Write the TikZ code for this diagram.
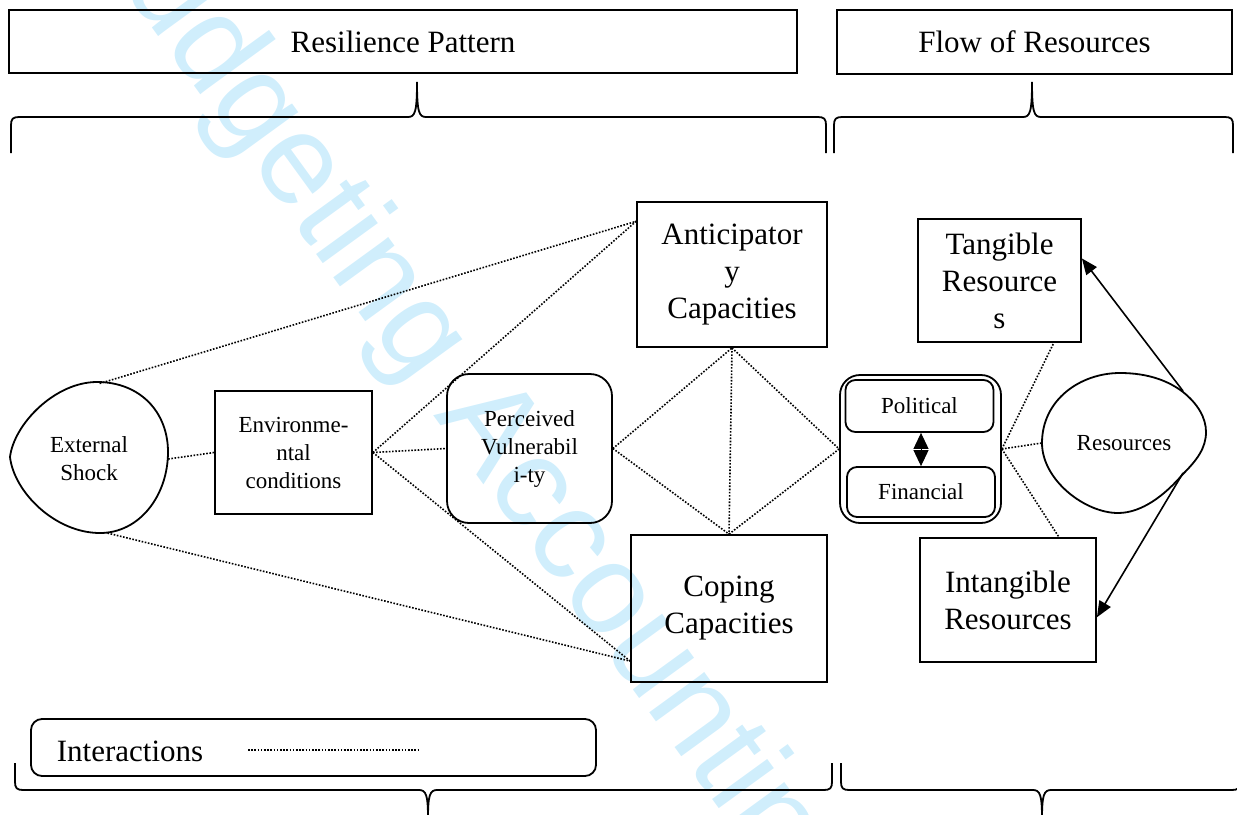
\documentclass[tikz,border=0pt]{standalone}
\usepackage{fontspec}
\setmainfont{Liberation Serif}
\newfontfamily\markfont{Liberation Sans}
\usetikzlibrary{shapes.geometric,arrows.meta}
\definecolor{markblue}{RGB}{208,238,252}

% word style braces: left end, tip, right end
\newcommand{\topbrace}[3]{%
  \draw[brace] (#1,153) -- (#1,125) .. controls (#1,119) and (#1+2,117) .. (#1+8,117)
    -- (#2-9,117) .. controls (#2-2,117) and (#2,112) .. (#2,82)
    .. controls (#2,112) and (#2+2,117) .. (#2+9,117)
    -- (#3-8,117) .. controls (#3-2,117) and (#3,119) .. (#3,125) -- (#3,153);}
\newcommand{\botbrace}[3]{%
  \draw[brace] (#1,763) -- (#1,782) .. controls (#1,788) and (#1+2,790) .. (#1+8,790)
    -- (#2-9,790) .. controls (#2-2,790) and (#2,795) .. (#2,818)
    .. controls (#2,795) and (#2+2,790) .. (#2+9,790)
    -- (#3-8,790) .. controls (#3-2,790) and (#3,788) .. (#3,782) -- (#3,763);}

\begin{document}
\begin{tikzpicture}[x=1pt,y=-1pt,
	box/.style={draw, line width=1.8pt, align=center, inner sep=0pt},
	big/.style={font=\fontsize{31}{37}\selectfont},
	small/.style={font=\fontsize{23}{28}\selectfont},
	link/.style={line width=1.6pt, dash pattern=on 1.6pt off 1.6pt},
	flow/.style={line width=1.6pt, -{Triangle[length=16pt,width=13pt]}},
	brace/.style={line width=1.8pt}]
	\useasboundingbox (0,0) rectangle (1237,814);
	\node[font=\markfont\fontsize{129}{129}\selectfont, text=markblue, rotate=-54, anchor=base, inner sep=0pt] (mark) at (440,424) {Budgeting Accounting};
	% headings
	\node[box, big, minimum width=788pt, minimum height=63pt] (rp) at (403,41.5) {Resilience Pattern};
	\node[box, big, minimum width=395pt, minimum height=64pt] (fr) at (1034.5,42) {Flow of Resources};
	\topbrace{11}{417}{826}
	\topbrace{834}{1032}{1233}
	\botbrace{15}{428}{832}
	\botbrace{841}{1042}{1240}
	% resilience pattern
	\node[ellipse, small, align=center, inner sep=0pt, minimum width=158pt, minimum height=152pt] (es) at (89,459) {External\\Shock};
	\draw[line width=1.8pt] (10,457) .. controls (14,424) and (55,382) .. (97,382) .. controls (140,382) and (168,412) .. (168,452) .. controls (168,495) and (140,533) .. (100,533) .. controls (55,533) and (14,492) .. (10,457) -- cycle;
	\node[box, small, minimum width=157pt, minimum height=123pt] (env) at (293.5,452.5) {Environme-\\ntal\\conditions};
	\node[box, small, rounded corners=22pt, minimum width=165pt, minimum height=149pt] (pv) at (529.5,448.5) {Perceived\\Vulnerabil\\i-ty};
	\node[box, big, minimum width=190pt, minimum height=145pt] (ac) at (732,274.5) {Anticipator\\y\\Capacities};
	\node[box, big, minimum width=196pt, minimum height=147pt] (cc) at (729,608.5) {Coping\\Capacities};
	% flow of resources
	\node[box, rounded corners=20pt, minimum width=161pt, minimum height=148pt] (pf) at (920.5,449) {};
	\node[box, small, rounded corners=10pt, minimum width=148pt, minimum height=52pt] (pol) at (919.5,406) {Political};
	\node[box, small, rounded corners=10pt, minimum width=148pt, minimum height=50pt] (fin) at (921,492) {Financial};
	\draw[{Triangle[length=16pt,width=15pt]}-{Triangle[length=16pt,width=15pt]}, line width=1pt] (pol.south -| fin.north) -- (fin.north);
	\node[small, inner sep=0pt, minimum width=164pt, minimum height=140pt] (res) at (1124,443) {Resources};
	\draw[line width=1.8pt] (1042,443) .. controls (1042,400) and (1080,373) .. (1120,373) .. controls (1150,373) and (1170,382) .. (1183,392) .. controls (1198,404) and (1206,418) .. (1206,432) .. controls (1206,448) and (1197,460) .. (1183,474) .. controls (1165,495) and (1142,513) .. (1118,513) .. controls (1085,513) and (1042,480) .. (1042,443) -- cycle;
	\coordinate (resUp) at (1183,391);
	\coordinate (resDn) at (1183,473);
	\node[box, big, minimum width=163pt, minimum height=123pt] (tr) at (999.5,280.5) {Tangible\\Resource\\s};
	\node[box, big, minimum width=176pt, minimum height=124pt] (ir) at (1008,600) {Intangible\\Resources};
	% interactions
	\draw[link] (es.east) -- (env.west);
	\draw[link] (es.82) -- (ac.151);
	\draw[link] (es.-76) -- (cc.208);
	\draw[link] (env.east) -- (ac.151);
	\draw[link] (env.east) -- (pv.west);
	\draw[link] (env.east) -- (cc.208);
	\draw[link] (pv.east) -- (ac.south);
	\draw[link] (pv.east) -- (cc.north);
	\draw[link] (ac.south) -- (cc.north);
	\draw[link] (ac.south) -- (pf.west);
	\draw[link] (cc.north) -- (pf.west);
	\draw[link] (pf.east) -- (tr.-49);
	\draw[link] (pf.east) -- (res.west);
	\draw[link] (pf.east) -- (ir.51);
	\draw[flow] (resUp) -- (tr.15);
	\draw[flow] (resDn) -- (ir.-11);
	% legend
	\node[box, rounded corners=11pt, minimum width=565pt, minimum height=57pt] (legend) at (313.5,747.5) {};
	\node[big, inner sep=0pt] (lgtxt) at (130,751) {Interactions};
	\coordinate (lgA) at (248,750);
	\coordinate (lgB) at (419,750);
	\draw[link] (lgA) -- (lgB);
\end{tikzpicture}
\end{document}
